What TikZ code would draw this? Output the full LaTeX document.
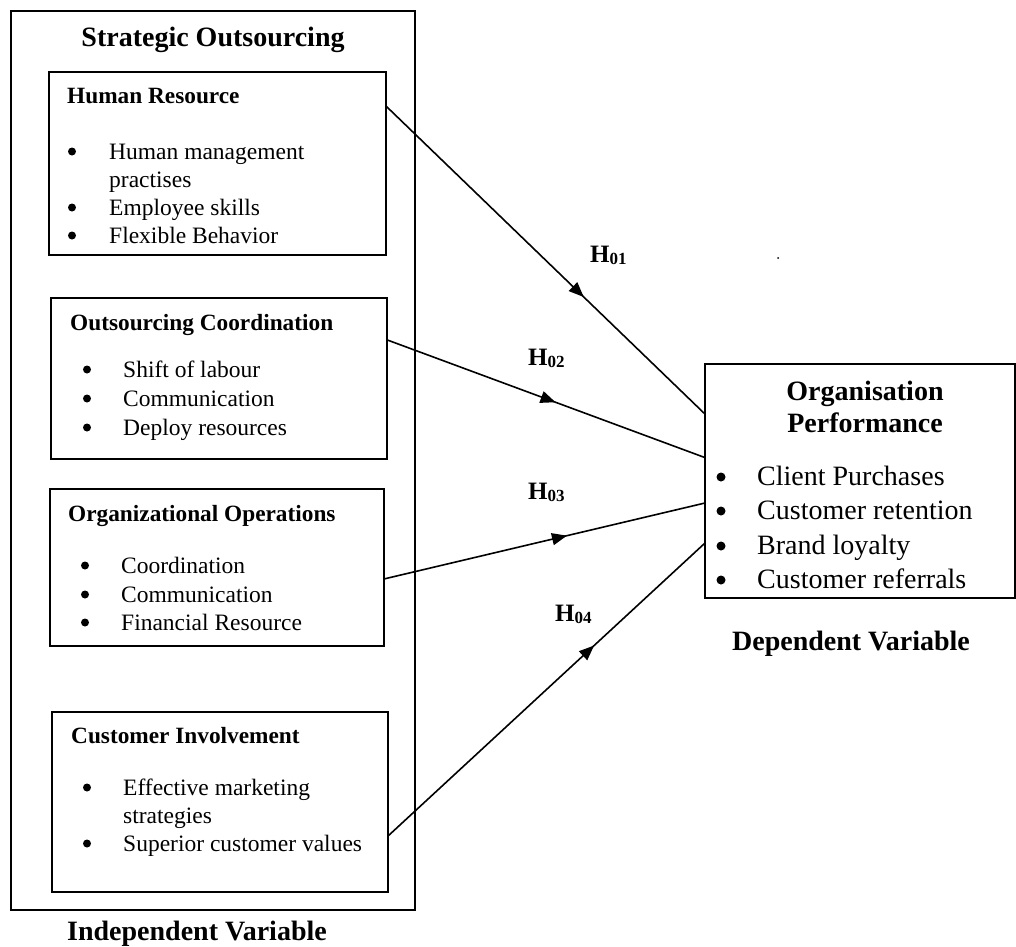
\documentclass[tikz,border=0pt]{standalone}
\usepackage{fontspec}
\setmainfont{Liberation Serif}
\usetikzlibrary{arrows.meta,decorations.markings,calc}
\begin{document}
\begin{tikzpicture}[x=1pt,y=-1pt,
 box/.style={draw, line width=1.2pt, inner sep=0pt, outer sep=0pt, anchor=north west},
 body/.style={font=\fontsize{23.5}{28}\selectfont, anchor=base west, inner sep=0pt},
 bul/.style={circle, fill, inner sep=0pt, minimum size=8pt, yshift=7.5pt},
 head/.style={font=\fontsize{23.3}{28}\selectfont\bfseries, anchor=base west, inner sep=0pt},
 big/.style={font=\fontsize{28}{33}\selectfont\bfseries, anchor=base, inner sep=0pt},
 opbody/.style={font=\fontsize{28}{33}\selectfont, anchor=base west, inner sep=0pt},
 opbul/.style={circle, fill, inner sep=0pt, minimum size=9pt, yshift=8pt},
 hlabel/.style={font=\fontsize{25}{28}\selectfont\bfseries, anchor=base west, inner sep=0pt},
 hyp/.style={line width=1.6pt, decoration={markings, mark=at position #1 with {\arrow{Triangle[length=15pt,width=12pt]}}}, postaction={decorate}}
]
\useasboundingbox (0,0) rectangle (1016,946);

% outer box
\node[box, minimum width=404pt, minimum height=899pt] (outer) at (11,11) {};
\node[big] (sotitle) at (213,46) {Strategic Outsourcing};
\node[big] (indep) at (197,940) {Independent Variable};

% Human Resource
\node[box, minimum width=337pt, minimum height=183pt] (hr) at (49,72) {};
\node[head] (hrt) at (67,103) {Human Resource};
\node[bul] (hrb1) at (72,159) {};
\node[body] (hr1) at (109,159) {Human management};
\node[body] (hr1b) at (109,187) {practises};
\node[bul] (hrb2) at (72,215) {};
\node[body] (hr2) at (109,215) {Employee skills};
\node[bul] (hrb3) at (72,243) {};
\node[body] (hr3) at (109,243) {Flexible Behavior};

% Outsourcing Coordination
\node[box, minimum width=336pt, minimum height=161pt] (oc) at (51,298) {};
\node[head] (oct) at (70,330) {Outsourcing Coordination};
\node[bul] (ocb1) at (87,377) {};
\node[body] (oc1) at (123,377) {Shift of labour};
\node[bul] (ocb2) at (87,406) {};
\node[body] (oc2) at (123,406) {Communication};
\node[bul] (ocb3) at (87,435) {};
\node[body] (oc3) at (123,435) {Deploy resources};

% Organizational Operations
\node[box, minimum width=334pt, minimum height=157pt] (oo) at (50,489) {};
\node[head] (oot) at (68,521) {Organizational Operations};
\node[bul] (oob1) at (85,573) {};
\node[body] (oo1) at (121,573) {Coordination};
\node[bul] (oob2) at (85,602) {};
\node[body] (oo2) at (121,602) {Communication};
\node[bul] (oob3) at (85,630) {};
\node[body] (oo3) at (121,630) {Financial Resource};

% Customer Involvement
\node[box, minimum width=336pt, minimum height=180pt] (ci) at (52,712) {};
\node[head] (cit) at (71,743) {Customer Involvement};
\node[bul] (cib1) at (87,795) {};
\node[body] (ci1) at (123,795) {Effective marketing};
\node[body] (ci1b) at (123,823) {strategies};
\node[bul] (cib2) at (87,851) {};
\node[body] (ci2) at (123,851) {Superior customer values};

% Organisation Performance
\node[box, minimum width=310pt, minimum height=234pt] (op) at (705,364) {};
\node[big] (opt1) at (865,400) {Organisation};
\node[big] (opt2) at (865,432) {Performance};
\node[opbul] (opb1) at (721,485) {};
\node[opbody] (op1) at (757,485) {Client Purchases};
\node[opbul] (opb2) at (721,519) {};
\node[opbody] (op2) at (757,519) {Customer retention};
\node[opbul] (opb3) at (721,554) {};
\node[opbody] (op3) at (757,554) {Brand loyalty};
\node[opbul] (opb4) at (721,588) {};
\node[opbody] (op4) at (757,588) {Customer referrals};
\node[big] (dep) at (851,650) {Dependent Variable};

% connectors
\draw[hyp=0.62] ($(hr.north east)!0.186!(hr.south east)$) -- ($(op.north west)!0.214!(op.south west)$);
\draw[hyp=0.53] ($(oc.north east)!0.26!(oc.south east)$) -- ($(op.north west)!0.40!(op.south west)$);
\draw[hyp=0.57] ($(oo.north east)!0.573!(oo.south east)$) -- ($(op.north west)!0.594!(op.south west)$);
\draw[hyp=0.65] ($(ci.north east)!0.689!(ci.south east)$) -- ($(op.north west)!0.765!(op.south west)$);

% labels
\node[hlabel] (h1) at (590,262) {H\raisebox{-2pt}{\fontsize{17}{20}\selectfont 01}};
\node[hlabel] (h2) at (528,365) {H\raisebox{-2pt}{\fontsize{17}{20}\selectfont 02}};
\node[hlabel] (h3) at (528,499) {H\raisebox{-2pt}{\fontsize{17}{20}\selectfont 03}};
\node[hlabel] (h4) at (555,621) {H\raisebox{-2pt}{\fontsize{17}{20}\selectfont 04}};

\fill (778,258) circle (1pt);
\end{tikzpicture}
\end{document}
